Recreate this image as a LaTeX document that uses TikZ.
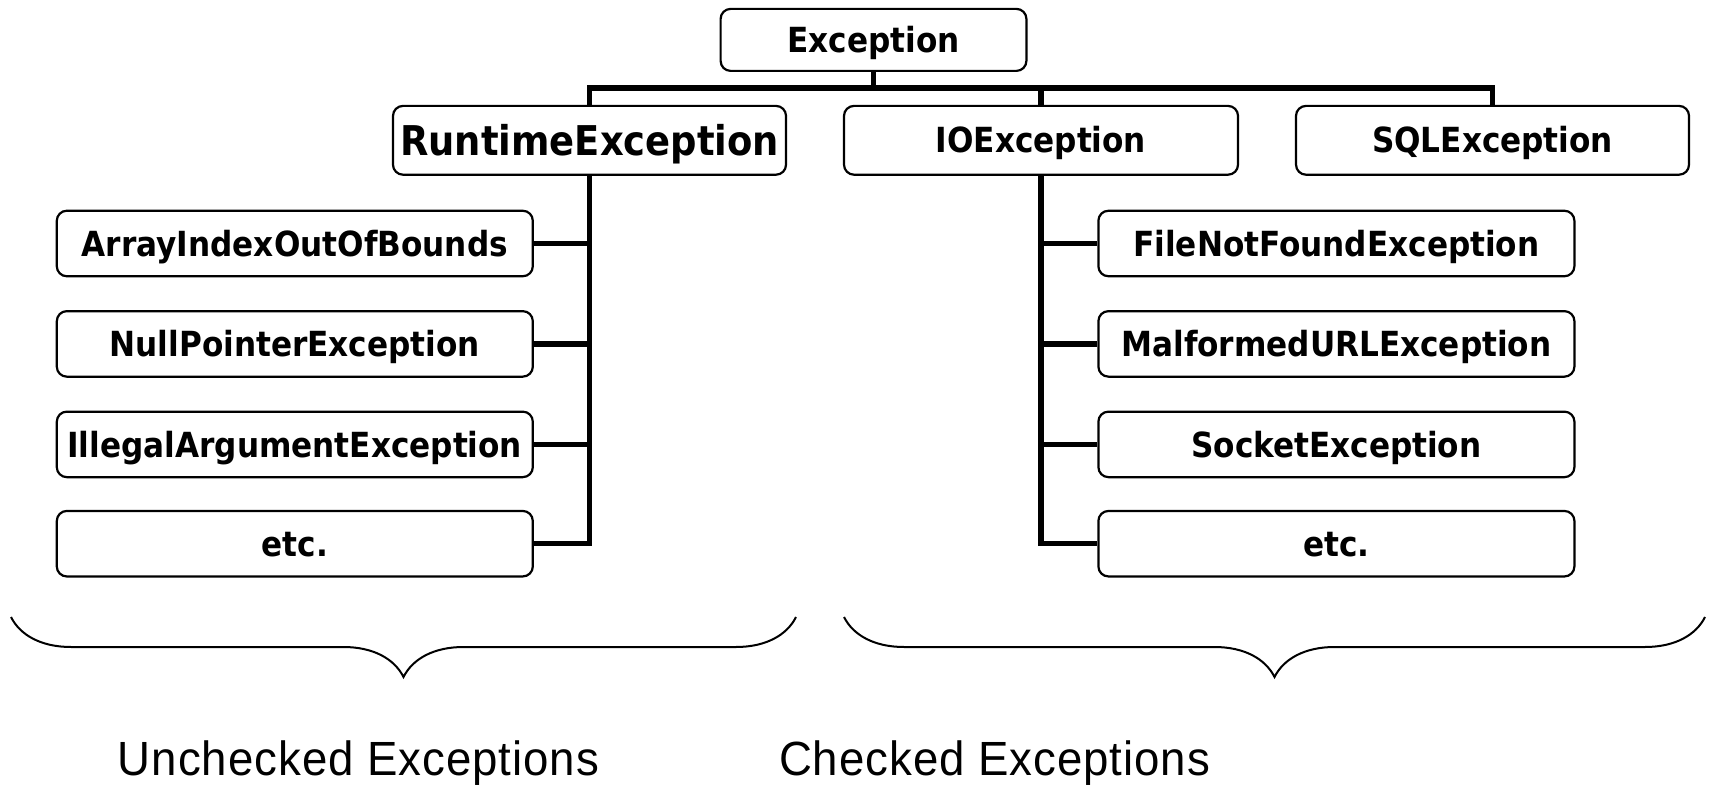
\documentclass[tikz,border=0pt]{standalone}
\usepackage{fontspec}
\setmainfont{DejaVu Sans Condensed}
\newfontfamily\labelfont{Liberation Sans}[FakeStretch=0.95,LetterSpace=2]
\usepackage{tikz}
\usetikzlibrary{positioning,calc}
\usetikzlibrary{decorations.pathreplacing}

\begin{document}
\begin{tikzpicture}[x=0.5pt,y=-0.5pt,
        cls/.style={draw,line width=1.1pt,rounded corners=5pt,inner sep=0pt,
            font=\bfseries\fontsize{17.3}{20}\selectfont,
            text height=12.6pt,text depth=0pt,
            minimum width=238pt,minimum height=32.75pt},
        link/.style={line width=2.6pt},
        brc/.style={decorate,decoration={brace,mirror,amplitude=30pt},line width=1pt},
        lbl/.style={font=\labelfont\fontsize{24}{28}\selectfont,anchor=base,inner sep=0pt}]
            \useasboundingbox (0,0) rectangle (1712,786);
            % top of the tree
            \node[cls,minimum width=152.9pt,minimum height=31pt] (exc) at (873.5,39.9) {Exception};
            \node[cls,minimum width=196.5pt,minimum height=34.4pt,text height=15pt,
                font=\bfseries\fontsize{20.5}{24}\selectfont] (rte) at (589.5,140.3) {RuntimeException};
            \node[cls,minimum width=197pt,minimum height=34.4pt] (ioe) at (1041,140.3) {IOException};
            \node[cls,minimum width=196.5pt,minimum height=34.4pt] (sql) at (1492.5,140.3) {SQLException};
            % unchecked
            \node[cls] (aio) at (294.8,243.5) {ArrayIndexOutOfBounds};
            \node[cls] (npe) at (294.8,343.9) {NullPointerException};
            \node[cls] (iae) at (294.8,444.4) {IllegalArgumentException};
            \node[cls] (etcL) at (294.8,543.7) {etc.};
            % checked
            \node[cls] (fnf) at (1336.4,243.5) {FileNotFoundException};
            \node[cls] (mue) at (1336.4,343.9) {MalformedURLException};
            \node[cls] (sock) at (1336.4,444.4) {SocketException};
            \node[cls] (etcR) at (1336.4,543.7) {etc.};
            % lines
            \coordinate (bus) at ($(exc.south)+(0,16)$);
            \draw[link] (exc.south) -- (bus);
            \draw[link] (rte.north) |- (bus) -| (sql.north);
            \draw[link] (ioe.north) -- (ioe.north |- bus);
            \draw[link] (rte.south) |- (etcL.east);
            \foreach \n in {aio,npe,iae}
                \draw[link] (\n.east) -- (\n.east -| rte.south);
            \draw[link] (ioe.south) |- (etcR.west);
            \foreach \n in {fnf,mue,sock}
                \draw[link] (\n.west) -- (\n.west -| ioe.south);
            % braces
            \draw[brc] (11,617) -- (796,617);
            \draw[brc] (844,617) -- (1705,617);
            \node[lbl] (unchk) at (358.5,775) {Unchecked Exceptions};
            \node[lbl] (chk) at (994.6,775) {Checked Exceptions};
        \end{tikzpicture}
\end{document}
